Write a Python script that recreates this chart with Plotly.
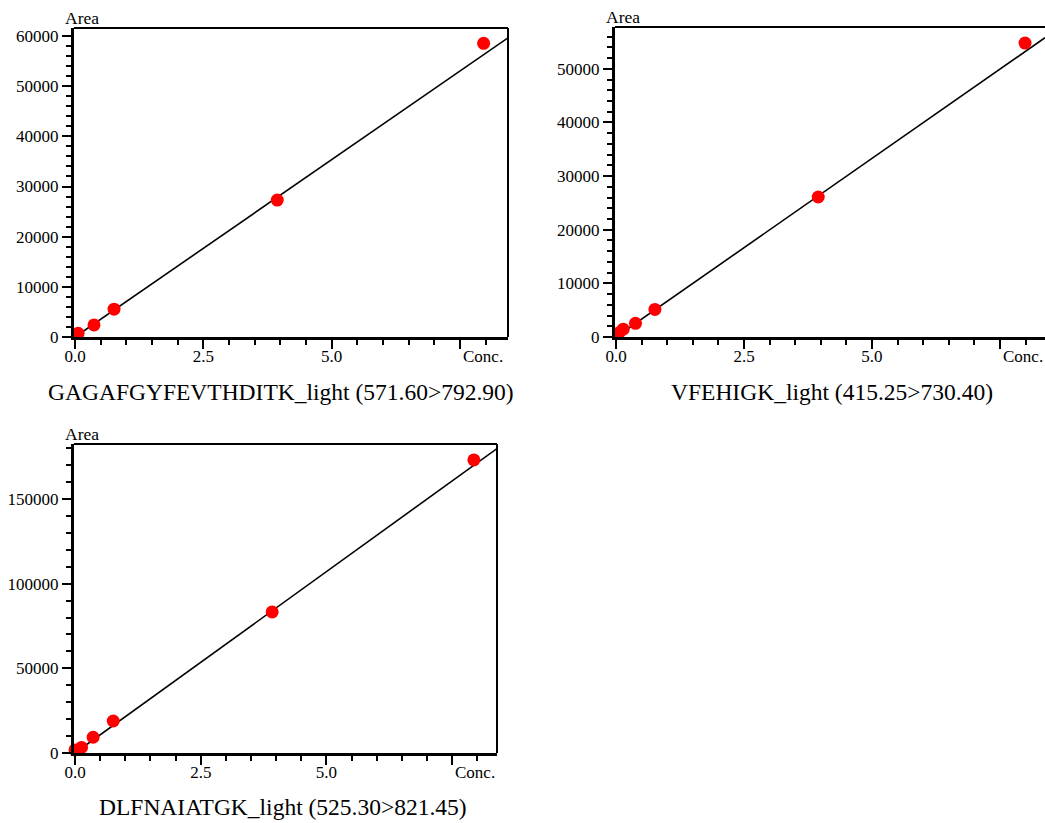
import plotly.graph_objects as go

# Calibration data: concentration vs peak area for three transitions
titles = [
    "GAGAFGYFEVTHDITK_light (571.60>792.90)",
    "VFEHIGK_light (415.25>730.40)",
    "DLFNAIATGK_light (525.30>821.45)",
]

conc1 = [0.06, 0.37, 0.76, 3.94, 7.96]
area1 = [750, 2400, 5550, 27300, 58550]

conc2 = [0.06, 0.14, 0.38, 0.76, 3.95, 7.99]
area2 = [800, 1450, 2550, 5150, 26100, 54800]

conc3 = [0.0, 0.13, 0.36, 0.76, 3.92, 7.93]
area3 = [1800, 3300, 9300, 18900, 83300, 173100]

# Fitted calibration lines (slope, intercept)
slopes = [7070, 6660, 21430]
intercepts = [0, 0, 0]

# Axis ranges
x_ranges = [[-0.02, 8.435], [-0.02, 8.38], [-0.02, 8.39]]
y_ranges = [[0, 61600], [0, 57800], [0, 182500]]
y_dticks = [10000, 10000, 50000]
y_minor = [2000, 2000, 10000]

W, H = 1045, 823
# Plot areas in pixels: left, right, top, bottom
boxes = [(74, 508, 28, 337), (615, 1045, 27, 337), (74, 497, 444, 753)]
title_pos = [(280.5, 392), (831.5, 392), (283, 807)]

FONT = "Liberation Serif, Times New Roman, serif"

fig = go.Figure()
datasets = [(conc1, area1), (conc2, area2), (conc3, area3)]

for i, (cx, ay) in enumerate(datasets):
    n = "" if i == 0 else str(i + 1)
    xa, ya = "x" + n, "y" + n
    x0, x1 = 0, x_ranges[i][1]
    fig.add_trace(go.Scatter(
        x=[x0, x1],
        y=[slopes[i] * x0 + intercepts[i], slopes[i] * x1 + intercepts[i]],
        mode="lines", line=dict(color="black", width=1.6),
        xaxis=xa, yaxis=ya, showlegend=False, hoverinfo="skip"))
    fig.add_trace(go.Scatter(
        x=cx, y=ay, mode="markers",
        marker=dict(color="#ff0000", size=13, line=dict(width=0)),
        xaxis=xa, yaxis=ya, showlegend=False, cliponaxis=False))

    l, r, t, b = boxes[i]
    xdom = [l / W, r / W]
    ydom = [1 - b / H, 1 - t / H]
    common = dict(showgrid=False, zeroline=False, showline=True,
                  automargin=False,
                  linecolor="black", linewidth=3, ticks="outside",
                  tickcolor="black", tickwidth=2, ticklen=9,
                  tickfont=dict(family=FONT, size=17, color="black"))
    fig.layout["xaxis" + n] = dict(
        domain=xdom, range=x_ranges[i], anchor=ya,
        tickvals=[0, 2.5, 5, 7.5], ticktext=["0.0", "2.5", "5.0", ""],
        ticklabelstandoff=-7,
        minor=dict(ticks="outside", dtick=0.5, tick0=0, ticklen=5,
                   tickcolor="black", tickwidth=1.5, showgrid=False),
        **common)
    fig.layout["yaxis" + n] = dict(
        domain=ydom, range=y_ranges[i], anchor=xa,
        dtick=y_dticks[i], tick0=0, tickformat="d",
        minor=dict(ticks="outside", dtick=y_minor[i], tick0=0, ticklen=5,
                   tickcolor="black", tickwidth=1.5, showgrid=False),
        **common)

    # Frame: top edge, plus right edge where it fits in the page
    xr = "x" + n + " domain"
    yr = "y" + n + " domain"
    fig.add_shape(type="line", xref=xr, yref=yr, x0=0, x1=1, y0=1, y1=1,
                  line=dict(color="black", width=2))
    if r < W:
        fig.add_shape(type="line", xref=xr, yref=yr, x0=1, x1=1, y0=0, y1=1,
                      line=dict(color="black", width=2))

    # Axis captions
    fig.add_annotation(text="Area", xref=xr, yref=yr, x=0, y=1,
                       xanchor="left", yanchor="bottom", xshift=-11, yshift=-2,
                       showarrow=False,
                       font=dict(family=FONT, size=17.5, color="black"))
    fig.add_annotation(text="Conc.", xref="x" + n, yref=yr, x=7.5, y=0,
                       xanchor="left", yanchor="top", xshift=1, yshift=-8,
                       showarrow=False,
                       font=dict(family=FONT, size=17, color="black"))

    # Transition title under each panel
    tx, ty = title_pos[i]
    fig.add_annotation(text=titles[i], xref="paper", yref="paper",
                       x=tx / W, y=1 - ty / H, xanchor="center",
                       yanchor="middle", showarrow=False,
                       font=dict(family=FONT, size=23.5, color="black"))

fig.update_layout(width=W, height=H, margin=dict(l=0, r=0, t=0, b=0),
                  template="none",
                  paper_bgcolor="white", plot_bgcolor="white")

fig.write_html("out.html")
